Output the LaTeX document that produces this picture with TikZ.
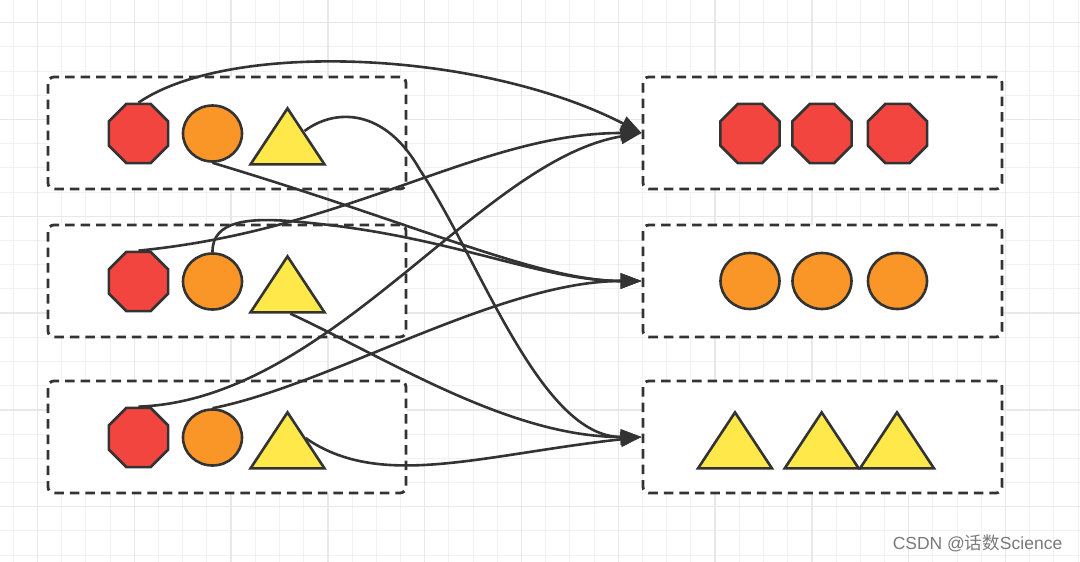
\documentclass[tikz,border=0pt]{standalone}
\usepackage{fontspec}
\setmainfont{Liberation Sans}
\newfontfamily\cjkfont{Noto Sans CJK SC}
\usetikzlibrary{shapes.geometric,arrows.meta,calc}
\definecolor{ink}{HTML}{333333}
\definecolor{octred}{HTML}{F2453F}
\definecolor{circorange}{HTML}{FA9628}
\definecolor{triyellow}{HTML}{FFE84A}
\definecolor{gridminor}{HTML}{F1F1F1}
\definecolor{gridmajor}{HTML}{E8E8E8}
\definecolor{marktext}{HTML}{7A7A7A}
\begin{document}
\begin{tikzpicture}[x=1pt,y=-1pt,
  groupbox/.style={draw=ink,line width=2.8pt,dash pattern=on 9.5pt off 6pt,rounded corners=6pt,minimum width=358pt,minimum height=112pt,inner sep=0pt},
  octa/.style={draw=ink,fill=octred,line width=2.6pt,regular polygon,regular polygon sides=8,minimum size=64pt,inner sep=0pt},
  roundish/.style={draw=ink,fill=circorange,line width=2.6pt,ellipse,minimum width=59pt,minimum height=56pt,inner sep=0pt},
  tri/.style={draw=ink,fill=triyellow,line width=2.6pt,line join=miter,isosceles triangle,shape border rotate=90,isosceles triangle stretches,minimum width=74pt,minimum height=56pt,inner sep=0pt},
  link/.style={draw=ink,line width=2.6pt,-{Triangle[length=21pt,width=15pt]}},
  minorline/.style={draw=gridminor,line width=1pt},
  majorline/.style={draw=gridmajor,line width=1.4pt}
]
\useasboundingbox (0,0) rectangle (1080,562);
\fill[white] (0,0) rectangle (1080,562);
% grid
\foreach \i in {0,...,44} {\draw[minorline] ({13.3+24.2*\i},0) -- ++(0,562);}
\foreach \i in {0,...,23} {\draw[minorline] (0,{-1.5+24.2*\i}) -- ++(1080,0);}
\foreach \i in {0,...,11} {\draw[majorline] ({37.5+96.8*\i},0) -- ++(0,562);}
\foreach \i in {0,...,5} {\draw[majorline] (0,{22.7+96.8*\i}) -- ++(1080,0);}

% boxes
\node[groupbox,fill=white] (lb1) at (227,133) {};
\node[groupbox,fill=white] (lb2) at (227,281) {};
\node[groupbox,fill=white] (lb3) at (227,437) {};
\node[groupbox,fill=white,minimum width=359pt] (rb1) at (822.5,133) {};
\node[groupbox,fill=white,minimum width=359pt] (rb2) at (822.5,281) {};
\node[groupbox,fill=white,minimum width=359pt] (rb3) at (822.5,437) {};

% left shapes
\node[octa] (o1) at (138.5,133.5) {};
\node[roundish] (c1) at (212.5,133.5) {};
\node[tri,anchor=apex] (t1) at (287.5,105) {};
\node[octa] (o2) at (138.5,281.5) {};
\node[roundish] (c2) at (212.5,281.5) {};
\node[tri,anchor=apex] (t2) at (287.5,253) {};
\node[octa] (o3) at (138.5,437.5) {};
\node[roundish] (c3) at (212.5,437.5) {};
\node[tri,anchor=apex] (t3) at (287.5,409) {};

% right shapes
\node[octa] (ro1) at (750,133.5) {};
\node[octa] (ro2) at (822,133.5) {};
\node[octa] (ro3) at (897.5,133.5) {};
\node[roundish] (rc1) at (750,281) {};
\node[roundish] (rc2) at (822,281) {};
\node[roundish] (rc3) at (897.5,281) {};
\node[tri,anchor=apex] (rt1) at (735,409) {};
\node[tri,anchor=apex] (rt2) at (821.7,409) {};
\node[tri,anchor=apex] (rt3) at (897,409) {};

% connectors
\draw[link] (o1.north) .. controls (230,40) and (480,50) .. (rb1.west);
\draw[link] (c1.south) .. controls (420,225) and (540,281) .. (rb2.west);
\draw[link] ($(t1.apex)+(17,26)$) .. controls (335,108) and (385,108) .. (420,170) .. controls (480,260) and (540,437) .. (rb3.west);
\draw[link] (o2.north) .. controls (350,230) and (480,133) .. (rb1.west);
\draw[link] (c2.north) .. controls (212,220) and (250,217) .. (300,222) .. controls (450,235) and (540,281) .. (rb2.west);
\draw[link] ($(t2.south)+(3,0)$) .. controls (390,360) and (510,437) .. (rb3.west);
\draw[link] (o3.north) .. controls (330,400) and (480,160) .. (rb1.west);
\draw[link] (c3.north) .. controls (330,385) and (500,281) .. (rb2.west);
\draw[link] ($(t3.apex)+(18,29)$) .. controls (380,490) and (480,455) .. (rb3.west);

% watermark
\node[text=marktext,font=\fontsize{17.5}{20}\selectfont,inner sep=0pt] (mark) at (977.5,543) {CSDN @{\cjkfont 话数}Science};
\end{tikzpicture}
\end{document}
